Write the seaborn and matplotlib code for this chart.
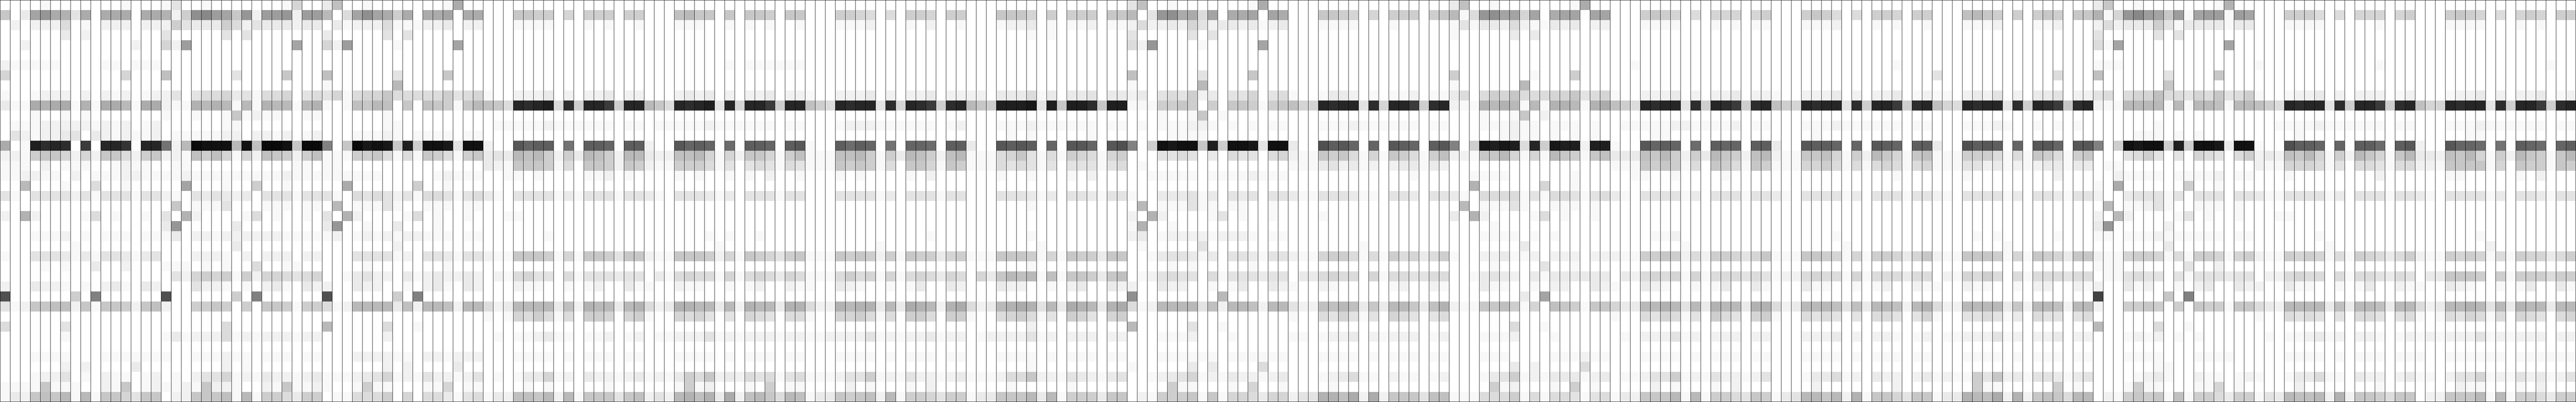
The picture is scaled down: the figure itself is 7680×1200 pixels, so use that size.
import numpy as np
import matplotlib
matplotlib.use('Agg')
import matplotlib.pyplot as plt
import seaborn as sns

# each block is 16 columns wide, rows not listed are empty
# one character per cell, 0-9a-z = darkness level
block_00 = {0: "0000100000001000", 1: "803dfcb4c0ccc0cc", 2: "0202225010222022", 3: "0000003020000000",
            4: "0020000000000200", 6: "2111110000110111", 7: "6000000000006000", 9: "1001222020212012",
            10: "311cbcc1b1cca1cc", 11: "0001001010000000", 12: "0111222221212012", 13: "0421223403212112",
            14: "c01wuvu0s0vvt0vv", 15: "2217886262885278", 16: "1110201110012110", 17: "1122110201112211",
            18: "00a0001005001000", 19: "4104444241444144", 21: "20b2000015010010", 23: "0001112010111011",
            24: "0000000100000000", 25: "1004443131443134", 26: "0000101003002000", 28: "2003221010231032",
            29: "p00000070i000000", 30: "4128899281887289", 32: "5000004000000000", 33: "0000001000000000",
            35: "0001111000111111", 36: "0000002020000300", 37: "0001224010211012", 38: "1111811100218012",
            39: "132898a1a1886488"}
block_01 = {0: "1400100000001600", 1: "b27ghed8f2eef2ee", 2: "2743337524333233", 3: "4000004040000000",
            4: "62e0000000000d00", 7: "9000000400008000", 9: "2404556341556045", 10: "211baba1a1baa1ab",
            11: "1001001812110011", 12: "0000001100000000", 13: "0111112202212012", 14: "k2azyyyay9zzy8zz",
            15: "2219796162987279", 16: "0110000000000110", 17: "1121111111112111", 18: "00d0001007001000",
            19: "2104343230444144", 20: "0801114000111011", 21: "40b2000015010010", 22: "3f00000300000000",
            23: "1302212222221111", 24: "0000000300000000", 25: "0002221020222022", 26: "1110101005001100",
            27: "0426767172665456", 28: "0004221010231032", 29: "p00000070i000000", 30: "2007787070887177",
            32: "0000005000000000", 33: "1312225121222122", 35: "1001112110111011", 36: "0000002010000000",
            37: "0102446121322123", 38: "1121822100218112", 39: "02288891a1775377"}
block_02 = {0: "3900100000001c00", 1: "a05dgdc7c0ccd0cc", 2: "0312225111223022", 3: "3000004040000000",
            4: "62e0000100000d00", 7: "9000000400008000", 8: "1000000a00000000", 9: "4615668555557456",
            10: "10198a908098718a", 11: "0000001000000000", 12: "0000001100000000", 13: "0001112101111011",
            14: "i08zxyx8w7yyx4yy", 15: "1117785151875178", 16: "1100000000000000", 17: "1111110000012111",
            18: "00c0000007001000", 19: "4105454241554145", 20: "0a01114100111011", 21: "40b2000015010010",
            22: "3f00100300010000", 23: "1201212122111011", 24: "0000000200000000", 25: "0004444120443144",
            26: "0000100000001000", 27: "0013422031232232", 28: "2003220010231032", 29: "p00000070i000000",
            30: "512aaaa392aa92aa", 32: "a000005001000000", 33: "0000002000000000", 35: "0002222110221222",
            36: "0000002020000300", 37: "1112346121422124", 38: "1001711000116011", 39: "0115557060553145"}
block_03 = {1: "0008877060777077", 2: "0001111000101001", 9: "1002223020223022", 10: "985vuvw5u7vvs7vv",
            12: "0111112111111011", 14: "200omnn0k0nnm0nn", 15: "343a9a7273a972aa", 16: "3218887150887287",
            17: "0011010000112010", 19: "3104444131444144", 21: "0011000000000000", 23: "0000001000000000",
            25: "2118887161887488", 27: "0215644051444344", 28: "0002110010120031", 30: "523aaaa392baa3ab",
            31: "1016575150776067", 33: "0101123110112012", 35: "0001111010111011", 37: "0101336120322123",
            38: "0000101000001000", 39: "132998a2a1888489"}
block_04 = {1: "0009a88080887088", 2: "0001110010101001", 6: "0000000010111111", 9: "0002323020223022",
            10: "a85vuvw4v6vvs7vv", 12: "0111112111111011", 14: "200omnm0l0nnm0no", 15: "32299a6162886179",
            16: "2117775140454154", 17: "0001010010102001", 19: "3104443130444144", 23: "0000001010010000",
            24: "0000000100000000", 25: "2118887261876478", 27: "0315655161565365", 28: "1002110010120021",
            30: "523bbaa3a2baa3bb", 31: "1006564040654055", 33: "0112224121222122", 35: "0001111010111011",
            37: "1213758232545145", 38: "0001712000107011", 39: "242ab9b3c29a85a9"}
block_05 = {1: "0007765050776077", 2: "0001112000102001", 9: "1002223020223022", 10: "975vuvv4u6vus7uv",
            12: "0001222111111012", 14: "100nlnm0k0mml0nn", 15: "11199a7173a9729a", 16: "1118787150886187",
            17: "0001010000102000", 19: "0004444130444144", 23: "0000000000001000", 24: "0000000100000000",
            25: "1118787271877367", 27: "1115756161565365", 28: "1003210010130032", 30: "522babb3a3cba2bc",
            31: "1006675150775077", 33: "1122224121223122", 35: "0001111010111011", 37: "1112447121422123",
            38: "0000201000102000", 39: "13387892a1776477"}
block_06 = {1: "0008886070777088", 2: "0001223010112011", 3: "0000001010000000", 9: "2203335130334033",
            10: "a87wwwx4w8wwu8ww", 12: "0001112111111011", 13: "0000101000001000", 14: "300onon0m0oom0op",
            15: "1115684151765167", 16: "1115454140444145", 17: "0001001000102000", 19: "0004443130443144",
            20: "0000001000000000", 23: "0000001000000000", 24: "0000000100000000", 25: "1118887161877388",
            26: "0000001000000000", 27: "0638a9a191887389", 28: "0003220010230032", 30: "523abcb4a3cba3bc",
            31: "1005675140764067", 32: "0000002000000000", 33: "0122224120222022", 35: "0001111010111011",
            36: "0000001000000000", 37: "1112558221432134", 38: "0000100000100000", 39: "133888a3a1777388"}
block_07 = {0: "4900100000001c00", 1: "a04fgcc5d0ccd0dc", 2: "2522326423323123", 3: "4000004040000000",
            4: "52f0000100000d00", 7: "9000000400008000", 8: "1000000a00000000", 9: "2304547230446045",
            10: "1117787070887178", 11: "0001001801000000", 12: "0101112210101011", 13: "0000111100000000",
            14: "i07yxyy8w7yyx4yy", 15: "0004454030544056", 16: "0100000000000000", 17: "0011111011112111",
            19: "1003334130434044", 20: "0a01114110110010", 21: "20b2000014010010", 22: "1b00100000000000",
            23: "2301222212221011", 24: "0100000400000000", 25: "0013443130443144", 26: "0000101000001000",
            27: "0124544051444344", 28: "2003220010130032", 29: "g00000000a000000", 30: "512aaaa492aa92aa",
            32: "a000004001000000", 33: "0001112000100000", 35: "0001111110111111", 36: "1000003030000500",
            37: "0012346121322123", 38: "0000711000106001", 39: "0217778181665366"}
block_08 = {1: "0008876060777078", 2: "0001111000100000", 9: "1001332010112011", 10: "966vuvv4u6vvs7uv",
            12: "0001112111111011", 14: "300pnom0m0onm0no", 15: "2118785161875179", 16: "1113423120233132",
            17: "0000000000001000", 19: "3114443110443044", 21: "0001000000000000", 24: "0000000100000000",
            25: "2116775151756357", 27: "0335655061554455", 28: "1002100000120021", 30: "42299a9383aa839b",
            31: "1005464140654045", 33: "1101223021222012", 35: "0001111010111011", 37: "0001235110211012",
            38: "0000100000000000", 39: "244bb9c2c2888499"}
block_09 = {0: "3900100000001c00", 1: "a15fgdd6d0cdd0dd", 2: "1413325211323022", 3: "1000003030000000",
            7: "7000000010007000", 8: "1000000a00000000", 9: "3505768555668456", 10: "211baba1a1bba1bc",
            11: "0001001802000000", 12: "0001112110111010", 13: "0000012110101010", 14: "i07xwxw5v7xww2ww",
            15: "22188a6161a87189", 17: "0011110000001000", 18: "00b0000006001000", 19: "3105555141554145",
            20: "0a01114100111010", 21: "30b2000015010010", 22: "0000100000000000", 23: "0001111010100000",
            24: "0000000300000000", 25: "1002231120222022", 26: "0000100004001000", 27: "0013432031333333",
            28: "0003110010220032", 29: "000000030d000000", 30: "2118897160987188", 32: "0000005001000000",
            33: "0001112000100000", 35: "0001110000111211", 36: "0000003020000500", 37: "0001347121333123",
            38: "0000712000107010", 39: "1115557151554145"}
block_10 = {1: "0007876050666067", 2: "0001111000101011", 6: "0010000000000000", 9: "1002223020223022",
            10: "975vuvv4u7vus7uv", 12: "0111112211112011", 13: "0000110000000000", 14: "100omnm0l0nmm0nn",
            15: "33398a7273a8729a", 16: "1118787150875187", 17: "0011001000010000", 19: "3104444130444144",
            23: "0000112000000000", 24: "0000000100000000", 25: "2117787252776468", 27: "0325656161555454",
            28: "1003210010130031", 30: "633aaba4a3baa3bb", 31: "1005465140754067", 33: "0102224120222022",
            35: "0001111010111011", 37: "0112447121422124", 38: "0000201000102000", 39: "132888a1a1775487"}
block_11 = {1: "0007875050776077", 2: "0001112000101001", 6: "0000000000001000", 9: "1002223020223012",
            10: "976vuvv4u7vvs7uv", 12: "0001112111111011", 13: "0000100000000000", 14: "300onnm0m0onm0nn",
            15: "2118896172a86189", 16: "1116675151565156", 17: "0000000000001000", 19: "3104444130444144",
            23: "0000001000000000", 24: "0000000100000000", 25: "1118876161776368", 27: "1225655161555355",
            28: "0003110010120021", 30: "523aaa9493aa92ab", 31: "1005454040554046", 33: "0002223020221012",
            35: "0001111010111011", 37: "0001335120322023", 38: "0000200000002000", 39: "134aa8a2b1886488"}
block_12 = {1: "0009a87070787088", 2: "0001112000112000", 7: "4000000000005000", 9: "1102324020334022",
            10: "965vuvv4u7vus8uv", 12: "0001112100101010", 14: "300pnon0m0oom0oo", 15: "1117775151875178",
            16: "1114423121233133", 17: "0001000000002000", 19: "2104444130443144", 23: "0000101000001000",
            24: "0000000100000000", 25: "2118887161876388", 27: "0216575051555455", 28: "1002110010220021",
            30: "522aaaa382aa92aa", 31: "1004454130544045", 33: "0112224120223022", 35: "0001111010111011",
            37: "1211748231443134", 38: "0000711000007010", 39: "133ba9c2b28985aa"}
block_13 = {0: "3800100000001b00", 1: "b16fhed8e1dee1ed", 2: "2523337413333133", 3: "4000004040000000",
            4: "51d0000000000d00", 6: "1110000000000000", 7: "9000000400008000", 8: "0000000800000000",
            9: "4505669554658457", 10: "211aaaa1a1aa91aa", 12: "0000001000000000", 13: "0000111010100000",
            14: "i07yxyy7w7yyx3yy", 15: "0004574040654057", 16: "0110000000000000", 17: "0021111011112011",
            18: "10c0000007001000", 19: "2003444140444044", 20: "0a01124100111010", 21: "20a2000014010010",
            22: "3f00000200000000", 23: "1101112111111011", 24: "0000000300000000", 25: "2116776151776167",
            26: "1110100004002000", 27: "0114544041444344", 28: "2003120010230032", 29: "r00000080i000000",
            30: "2007787070877188", 32: "a000005001000000", 33: "0001212010100000", 35: "0001111000111100",
            36: "0000001100000000", 37: "0000123100211012", 38: "0001711000116010", 39: "0217878191775377"}
block_14 = {1: "0007775050666067", 2: "0001111000001000", 6: "1000000000001000", 9: "1001223020222012",
            10: "975vuvv4u7vvs7uv", 12: "0011112111111011", 13: "0000100000000000", 14: "100pnnm0m0nnl0no",
            15: "23298a6172a8618a", 16: "2116665140554155", 17: "0001000000002000", 19: "3114444130444144",
            21: "0011000000000000", 23: "0000001000000000", 24: "0000000100000000", 25: "2117676151765357",
            27: "0225655051554354", 28: "2003110010130021", 30: "532aaaa393aa93aa", 31: "1005454040554045",
            33: "0101123120221012", 35: "0001111010111011", 37: "1001335110322023", 38: "0000200000001000",
            39: "143a99a2b2887588"}
block_15 = {1: "0007876050676077", 2: "0001111000101000", 6: "0000000000000100", 9: "0001223020223012",
            10: "966vuvv4u7vvs7uv", 12: "0001112111111011", 13: "0000011000000000", 14: "200omml0k0nml0mn",
            15: "33298a6172a8718a", 16: "2218888160877187", 17: "0001100000102000", 19: "3104444130443144",
            23: "0000001000000000", 24: "0000000200000000", 25: "2117676151766357", 27: "0338887071777577",
            28: "1003210010130031", 30: "523aaba4a3baa3aa", 31: "1015465150654056", 33: "1212224121222022",
            35: "1001111110111111", 37: "1102446121423124", 38: "0000211000102000", 39: "022888a1a1775377"}

blocks = [block_00, block_01, block_02, block_03, block_04, block_05, block_06, block_07,
          block_08, block_09, block_10, block_11, block_12, block_13, block_14, block_15]

LEVELS = "0123456789abcdefghijklmnopqrstuvwxyz"
n_rows = 40
n_cols = 16 * len(blocks)

matrix = np.zeros((n_rows, n_cols))
for b, block in enumerate(blocks):
    for row, cells in block.items():
        if len(cells) != 16:
            print('bad length', b, row, len(cells))
        for c, ch in enumerate(cells[:16]):
            matrix[row, b * 16 + c] = LEVELS.index(ch) * 7

fig = plt.figure(figsize=(76.8, 12), dpi=100)
ax = fig.add_axes([0, 0, 1, 1])
sns.heatmap(matrix, cmap='gray_r', vmin=0, vmax=255, cbar=False, ax=ax,
            xticklabels=False, yticklabels=False, linewidths=0)

# vertical separators only, no horizontal ones between rows
ax.vlines(np.arange(n_cols + 1), 0, n_rows, colors='black', linewidth=0.72)
for side in ax.spines.values():
    side.set_visible(True)
    side.set_color('black')
    side.set_linewidth(1.44)

fig.savefig('out.png', dpi=100)
